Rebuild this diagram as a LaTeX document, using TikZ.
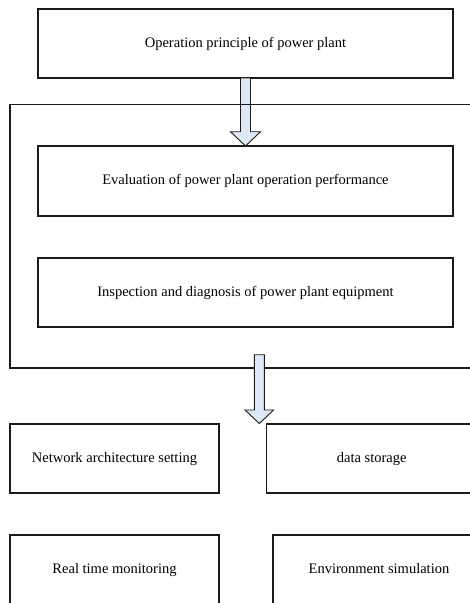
\documentclass[tikz,border=0pt]{standalone}
\usepackage{fontspec}
\setmainfont{Liberation Serif}
\usetikzlibrary{calc}
\definecolor{arrowfill}{HTML}{DFE8F5}
\definecolor{linecol}{HTML}{1A1A1A}
\begin{document}
\begin{tikzpicture}[x=1pt,y=1pt,
  box/.style={draw=linecol,line width=1.1pt,rectangle,inner sep=0pt,outer sep=0pt,text height=10pt,text depth=3pt,font=\fontsize{14.5}{16}\selectfont},
  blockarrow/.style={draw=linecol,line width=0.9pt,fill=arrowfill,line join=miter}]
\useasboundingbox (0,0) rectangle (470,-603);
\clip (0,0) rectangle (470,-603);
% nodes
\node[box,minimum width=415pt,minimum height=69pt] (top) at (245.5,-43.5) {Operation principle of power plant};
\node[box,minimum width=415pt,minimum height=70pt] (eval) at (245.5,-181) {Evaluation of power plant operation performance};
\node[box,minimum width=415pt,minimum height=69pt] (insp) at (245.5,-292.5) {Inspection and diagnosis of power plant equipment};
\node[box,minimum width=209pt,minimum height=69pt] (net) at (114.5,-458.5) {Network architecture setting};
\node[box,minimum width=210pt,minimum height=69pt] (data) at (371.7,-458.5) {data storage};
\node[box,minimum width=209pt,minimum height=69pt] (real) at (114.5,-569.5) {Real time monitoring};
\node[box,minimum width=212pt,minimum height=69pt] (env) at (379,-569.5) {Environment simulation};
% arrow 1 (behind frame line)
\draw[blockarrow] ($(top.south)+(-5,0)$) -- ($(eval.north)+(-5,14.3)$) -- ($(eval.north)+(-15,14.3)$) -- (eval.north)
  -- ($(eval.north)+(15,14.3)$) -- ($(eval.north)+(5,14.3)$) -- ($(top.south)+(5,0)$) -- cycle;
% frame
\node[box,minimum width=480pt,minimum height=263.5pt,anchor=north west] (frame) at (10,-104.5) {};
% arrow 2 (over frame line)
\coordinate (a2s) at (259.3,-354.7);
\coordinate (a2e) at (259.3,-423.5);
\draw[blockarrow] ($(a2s)+(-5,0)$) -- ($(a2e)+(-5,13.5)$) -- ($(a2e)+(-14.3,13.5)$) -- (a2e)
  -- ($(a2e)+(14.3,13.5)$) -- ($(a2e)+(5,13.5)$) -- ($(a2s)+(5,0)$) -- cycle;
\end{tikzpicture}
\end{document}
